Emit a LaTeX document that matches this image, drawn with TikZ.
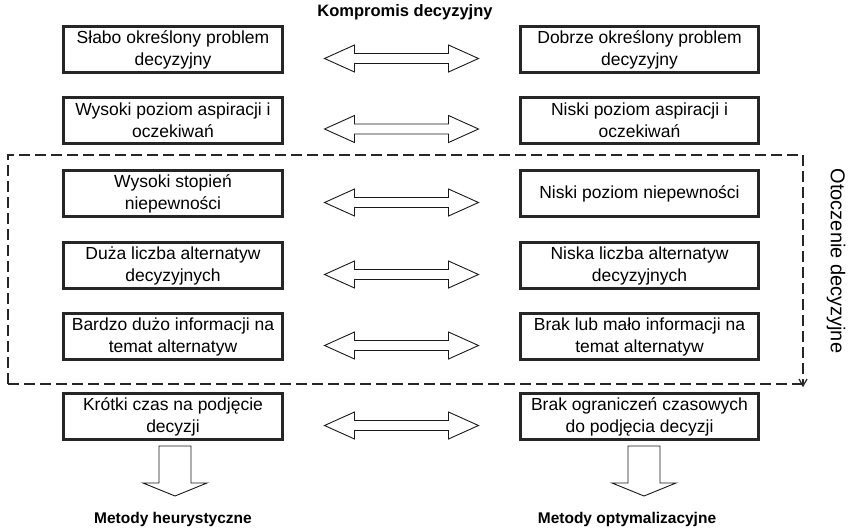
\documentclass[tikz,border=0pt]{standalone}
\usepackage{fontspec}
\setmainfont{Liberation Sans}
\usetikzlibrary{calc,arrows.meta}
\begin{document}
\begin{tikzpicture}[x=1pt,y=-1pt,
  box/.style={draw=black!85, line width=3pt, minimum height=46pt, align=center, inner sep=0pt,
    font=\fontsize{17.5}{22}\selectfont},
  lbox/.style={box, minimum width=219pt},
  rbox/.style={box, minimum width=238pt},
  blockline/.style={draw=black!90, line width=0.9pt, fill=white},
  boldlabel/.style={font=\bfseries\fontsize{15.5}{18}\selectfont, inner sep=0pt},
  dblarrow/.pic={\path[blockline] (-77,0) -- (-47,-13.5) -- (-47,-5) -- (47,-5) -- (47,-13.5) -- (77,0)
      -- (47,13.5) -- (47,5) -- (-47,5) -- (-47,13.5) -- cycle;},
  downarrow/.pic={\path[blockline] (-16,0) -- (-16,37) -- (-32,37) -- (0,50) -- (32,37) -- (16,37) -- (16,0) -- cycle;}
]
\useasboundingbox (0,0) rectangle (852,531);

\node[font=\bfseries\fontsize{16.5}{19}\selectfont, inner sep=0pt] (title) at (405,12) {Kompromis decyzyjny};

\node[lbox] (L1) at (173,49.5) {Słabo określony problem\\decyzyjny};
\node[rbox] (R1) at (639.5,49.5) {Dobrze określony problem\\decyzyjny};
\node[lbox] (L2) at (173,120) {Wysoki poziom aspiracji i\\oczekiwań};
\node[rbox] (R2) at (639.5,120) {Niski poziom aspiracji i\\oczekiwań};
\node[lbox] (L3) at (173,193.5) {Wysoki stopień\\niepewności};
\node[rbox] (R3) at (639.5,193.5) {Niski poziom niepewności};
\node[lbox] (L4) at (173,265.5) {Duża liczba alternatyw\\decyzyjnych};
\node[rbox] (R4) at (639.5,265.5) {Niska liczba alternatyw\\decyzyjnych};
\node[lbox] (L5) at (173,336.5) {Bardzo dużo informacji na\\temat alternatyw};
\node[rbox] (R5) at (639.5,336.5) {Brak lub mało informacji na\\temat alternatyw};
\node[lbox] (L6) at (173,416.5) {Krótki czas na podjęcie\\decyzji};
\node[rbox] (R6) at (639.5,416.5) {Brak ograniczeń czasowych\\do podjęcia decyzji};

\foreach \i in {1,...,6}{
  \pic at ($(L\i.east)!0.5!(R\i.west)+(0,9)$) {dblarrow};
}

% environment frame
\coordinate (fa) at (8,384);
\coordinate (fb) at (8,155);
\coordinate (fc) at (803,155);
\coordinate (fd) at (803,384);
\draw[line width=2.3pt, black!85, dash pattern=on 11pt off 5pt] (fa) -- (fb) -- (fc) -- (fd);
\draw[line width=2.3pt, black!85, dash pattern=on 11pt off 5pt] (fa) -- (fd);
\draw[line width=1.2pt, black!85] (799,379) -- (803,386) -- (807,379);

\node[rotate=-90, font=\fontsize{20}{23}\selectfont, inner sep=0pt] (env) at (836,261) {Otoczenie decyzyjne};

\pic at ($(L6.south)+(2,5)$) {downarrow};
\pic at ($(R6.south)+(4.5,5)$) {downarrow};

\node[boldlabel] (mh) at (173,519) {Metody heurystyczne};
\node[boldlabel] (mo) at (627,519) {Metody optymalizacyjne};
\end{tikzpicture}
\end{document}
